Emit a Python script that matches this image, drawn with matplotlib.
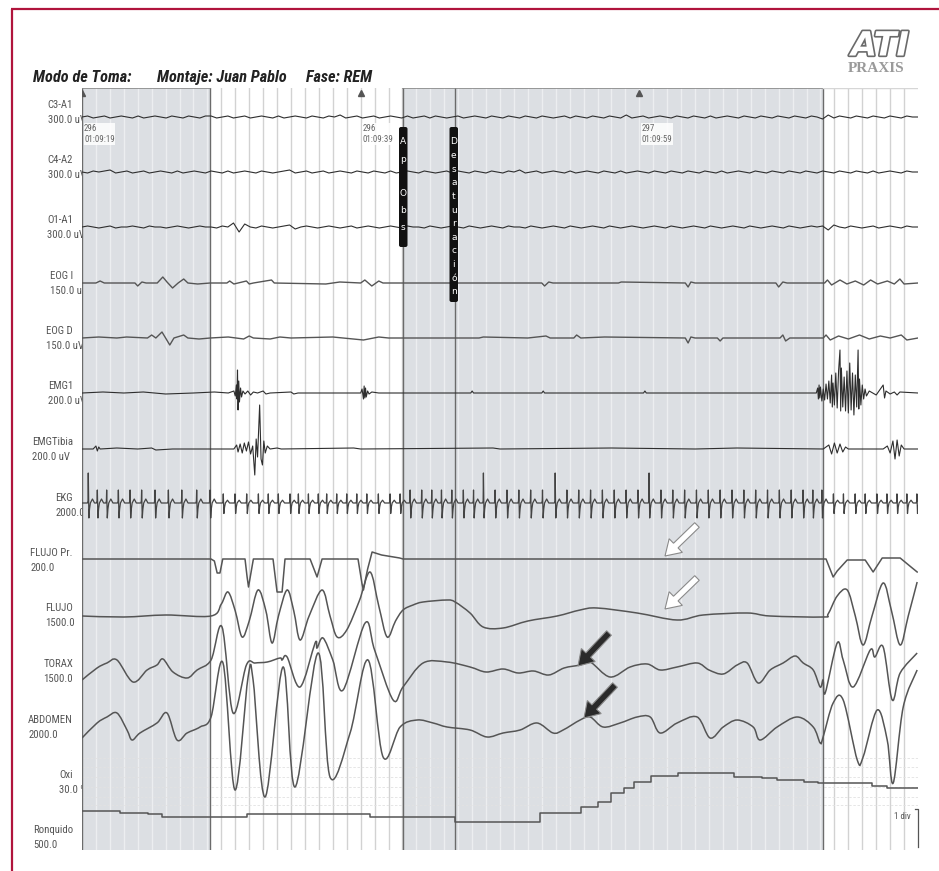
import matplotlib

matplotlib.use("Agg")

import matplotlib.patheffects as pe
import matplotlib.pyplot as plt
import numpy as np
from matplotlib import font_manager
from matplotlib.patches import FancyArrow, FancyBboxPatch, PathPatch
from matplotlib.path import Path

W, H = 939, 871
T_END = 60.0

# scored windows (s) and dark event lines
SCORED = [(0.0, 9.19), (23.04, 53.19)]
EVENT_LINES = [0.0, 9.19, 23.04, 26.78, 53.19]

CHANNELS = ["C3-A1", "C4-A2", "O1-A1", "EOG I", "EOG D", "EMG1", "EMGTibia",
            "EKG", "FLUJO Pr.", "FLUJO", "TORAX", "ABDOMEN", "Oxi", "Ronquido"]
SCALES = ["300.0 uV", "300.0 uV", "300.0 uV", "150.0 uV", "150.0 uV", "200.0 uV",
          "200.0 uV", "2000.0", "200.0", "1500.0", "1500.0", "2000.0", "30.0 %", "500.0"]

# EEG jitter, evenly sampled over the 60 s page
C3_A1 = [0, 1, -1, 0, 1, -1, 0, 1, 0, -1, 1, -1, 0, 1, 0, -1, 1, 0, -1, 1,
         0, -1, 1, 1, -1, 0, 1, -1, 0, 1, -1, 0, 1, 0, -1, 1, -1, 0, 1, 0,
         -1, 1, 0, -1, 1, 0, 2, -1, 0, 1, -1, 0, 1, -1, 0, 1, 0, -1, 1, -1,
         0, 1, -1, 1, 0, -1, 0, 1, -1, 0, 1, 0, -1, 1, 0, -1, 1, 0, -1, 1,
         0, -1, 1, 0, -1, 0, 1, -1, 1, 0, -1, 1, 0, -1, 1, 0, -1, 2, -1, 0,
         1, -1, 0, 1, 0, -1, 1, 0, -1, 1, 0, -1, 1, -1, 0, 1, 0, -1, 1, 0,
         -1, 1, 0, -1, 1, 0, -1, 1, 0, -1, 1, 0, -2, 2, -1, 1, 0, -1, 1, 0,
         -1, 1, 0, -1, 1, 0, -1, 1, 0, 0]
C4_A2 = [0, -1, 1, 0, 1, 2, -1, 0, 1, -1, 0, 1, -1, 0, 1, 0, -1, 1, -1, 0,
         1, 0, -1, 1, 0, -1, 1, -1, 0, 1, 0, -1, 1, 0, -1, 0, 1, 2, -1, 0,
         1, -1, 0, 1, -1, 0, 1, 0, -1, 1, 0, -1, 1, 0, -1, 1, -1, 0, 1, 0,
         -1, 1, 0, -1, 0, 1, -1, 1, 0, -1, 1, 0, -1, 1, 0, -1, 1, 0, 2, -1,
         0, 1, -1, 0, 1, 0, -1, 1, -1, 0, 1, 0, -1, 1, 0, -1, 1, -1, 0, 1,
         0, -1, 1, 0, -1, 1, 0, -1, 1, 0, -1, 1, 0, -1, 1, -1, 0, 1, 0, -1,
         1, 0, -1, 1, 0, -1, 1, 0, -1, 1, 0, -1, 1, 0, -1, 1, 0, -1, 1, 0,
         -1, 1, -1, 0, 1, 0, -1, 1, 0, 0]
O1_A1 = [0, 1, 0, -1, 0, 1, -1, 0, 0, 1, 0, -1, 1, 0, 0, -1, 0, 1, 0, -1,
         0, 1, 0, 0, -1, 1, 0, 4, -5, 3, 0, -1, 1, 0, -1, 0, 1, 2, -2, 0,
         1, 0, -1, 0, 1, 0, -1, 0, 1, -1, 0, 1, 0, -1, 0, 1, 0, -1, 1, 0,
         0, -1, 1, 0, -1, 0, 1, 0, -1, 1, 0, -1, 0, 1, 0, -1, 1, 0, 0, -1,
         1, 0, -1, 0, 1, 0, -1, 1, 0, -1, 0, 1, 0, -1, 1, 0, -1, 0, 1, 0,
         -1, 0, 1, 0, -1, 1, 0, -1, 0, 1, 0, -1, 1, 0, -1, 0, 1, 0, -1, 1,
         0, -1, 0, 1, 0, -1, 1, 0, -1, 0, 1, 0, 1, -3, 2, 0, -1, 1, 0, -1,
         0, 1, -1, 0, 1, 0, -1, 1, 0, 0]

# slow channels as (time s, deflection) knots
EOG_I = [(0, 0), (1.0, 0), (1.3, 2), (1.6, 0), (3.8, 0), (4.0, -3), (4.3, 1), (4.6, 0),
         (5.4, 0), (5.8, 6), (6.1, 1), (6.5, -5), (6.9, 0), (7.3, 4), (7.6, 0), (8.3, -1),
         (9.2, 0), (10.4, 0), (10.6, 2), (10.9, -1), (11.8, 2), (12.0, -1), (12.3, 0),
         (13.6, 3), (13.8, 0), (17.5, -1), (18.5, 1), (20.0, 0), (20.3, 3), (20.8, -3),
         (21.3, 2), (21.6, 0), (33.0, 0), (33.2, -3), (33.5, 1), (33.8, 0), (38.5, 0),
         (38.7, 1), (43.3, 0), (43.5, -4), (43.7, 1), (44.0, 0), (49.8, 0), (50.0, -4),
         (50.3, 1), (50.6, 0), (53.3, 0), (53.5, 3), (53.8, -2), (54.4, 3), (54.9, -1),
         (55.5, 2), (56.1, -2), (56.6, 3), (57.1, -1), (57.8, 2), (58.3, -1), (58.7, 4),
         (59.0, -1), (60, 0)]
EOG_D = [(0, 0), (1.2, 1), (2.5, 0), (3.2, 1), (4.7, 0), (5.0, 3), (5.3, 0), (5.74, 6),
         (6.0, 0), (6.3, -7), (6.6, 0), (7.3, 3), (7.6, 0), (8.4, -1), (9.2, 0), (10.5, 1),
         (11.6, -1), (12.0, 2), (12.3, 0), (13.5, -1), (14.2, 1), (15.0, 0), (18.0, 1),
         (20.2, -2), (21.3, 1), (22.0, 0), (28.5, 0), (28.8, 1), (32.0, 0), (33.3, 2),
         (33.6, 0), (35.3, 0), (35.5, 3), (35.8, 0), (37.5, 1), (43.3, 0), (43.5, -5),
         (43.7, 1), (44.0, 0), (45.6, 0), (45.8, -3), (46.0, 0), (50.1, 0), (50.3, 3),
         (50.5, -3), (50.8, 0), (53.2, 0), (53.4, 3), (53.7, -2), (54.3, 2), (55.0, -1),
         (55.8, 3), (56.5, -1), (57.3, 2), (58.0, 0), (58.8, 3), (59.2, -2), (60, 0)]
EMG1 = [(0, 0), (1.5, 1), (3, 0), (4.4, 1), (6, -1), (8, 0), (9.5, 1), (10.5, 0), (10.9, 2),
        (11.0, -3), (11.08, 8), (11.12, -6), (11.16, 23), (11.2, -17), (11.25, 12),
        (11.3, -9), (11.38, 5), (11.45, -4), (11.55, 2), (11.7, -1), (11.9, 2), (12.1, -2),
        (12.3, 1), (12.6, 0), (13.0, 2), (13.2, -1), (13.5, 0), (15.0, 1), (15.2, -1),
        (15.5, 0), (20.0, 0), (20.1, 4), (20.2, -6), (20.25, 7), (20.3, -5), (20.35, 5),
        (20.4, -4), (20.5, 2), (20.6, -1), (20.8, 1), (21.3, 0), (27.9, 0), (28.0, 2),
        (28.1, 0), (33.0, 0), (33.1, 2), (33.2, 0), (40.3, 0), (40.4, 2), (40.5, 0),
        (52.7, 0), (52.8, 5), (52.85, -6), (52.9, 8), (52.95, -5), (53.0, 6), (53.1, -8),
        (53.2, 4), (53.3, -7), (53.4, 9), (53.5, -6), (53.6, 12), (53.7, -10), (53.8, 18),
        (53.85, -14), (53.9, 10), (54.0, -12), (54.1, 20), (54.2, -15), (54.3, 22),
        (54.4, 43), (54.45, -18), (54.5, 25), (54.6, -14), (54.7, 16), (54.8, -18),
        (54.9, 22), (55.0, -20), (55.1, 30), (55.2, -17), (55.3, 20), (55.4, -22),
        (55.5, 18), (55.6, -14), (55.7, 43), (55.75, -16), (55.8, 14), (55.9, -12),
        (56.0, 8), (56.1, -6), (56.2, 4), (56.3, -3), (56.5, 2), (57.0, -2), (57.5, 8),
        (57.6, -5), (57.7, 2), (58.0, -1), (58.3, 1), (58.5, -2), (58.7, 1), (60, 0)]
EMG_TIBIA = [(0, 0), (0.8, 0), (1.0, 3), (1.1, -2), (1.2, 2), (1.3, 0), (2.5, 1), (4.0, 0),
             (5.0, 1), (5.3, -1), (6.5, 0), (10.9, 0), (11.1, 4), (11.2, -3), (11.35, 5),
             (11.5, -4), (11.65, 6), (11.8, -2), (11.95, 7), (12.1, -5), (12.25, 3),
             (12.4, -26), (12.5, 10), (12.6, -8), (12.75, 44), (12.85, -10), (12.95, -16),
             (13.05, 8), (13.15, -4), (13.3, 3), (13.5, 0), (14.0, 1), (14.3, 0), (19.5, 1),
             (20, 0), (29.5, 1), (30, 0), (38, 1), (44, 0), (47, 1), (53.2, 0), (53.6, 4),
             (53.8, -5), (54.0, 6), (54.2, -4), (54.4, 5), (54.6, -3), (54.8, 2), (55.0, 0),
             (57.5, 0), (57.8, 3), (58.0, -4), (58.2, 8), (58.35, -10), (58.5, 9),
             (58.65, -7), (58.8, 4), (59.0, 0), (60, 0)]

EKG_BEATS = [0.45, 1.1, 1.77, 2.61, 3.45, 4.28, 5.24, 6.2, 7.16, 8.23, 9.19,
             10.14, 10.98, 11.82, 12.66, 13.37, 14.09, 14.93, 15.53, 16.25, 16.96,
             17.56, 18.28, 19.0, 19.72, 20.44, 21.27, 22.11, 22.83,
             23.55, 24.38, 25.1, 25.8, 26.54, 27.37, 28.1, 28.81, 29.65, 30.5, 31.35,
             32.2, 33.05, 33.96, 34.8, 35.65, 36.5, 37.35, 38.2, 39.05, 39.9, 40.7,
             41.55, 42.4, 43.25, 44.1, 44.95, 45.8, 46.65, 47.5, 48.35, 49.2, 50.05,
             50.9, 51.75, 52.45, 53.1,
             53.93, 54.65, 55.49, 56.21, 57.05, 57.77, 58.49, 59.2, 59.92]
EKG_TALL = [0.45, 28.81, 33.96, 40.7]
BEAT_T = [-0.06, -0.02, 0.0, 0.045, 0.09, 0.15, 0.3, 0.45]
BEAT_V = [0, 2, 13, -15, -6, 0, 4, 0]

FLUJO_PR = [(0.0, 0), (9.26, 0), (9.5, -2), (9.7, -14), (9.9, -14), (10.1, 0), (11.7, 0),
            (11.85, -18), (11.95, -28), (12.05, -20), (12.3, 0), (13.71, 0), (14.0, -33),
            (14.36, -33), (14.57, 0), (16.37, 0), (16.87, -18), (17.23, 0), (19.81, 0),
            (20.1, -25), (20.2, -31), (20.35, -20), (20.5, -10), (20.82, 7), (21.5, 4),
            (22.8, 1), (23.04, 0), (53.4, 0), (53.91, -18), (54.2, -12), (54.92, -1),
            (56.21, -1), (56.78, -13), (57.43, 1), (58.72, 1), (59.5, -8), (59.94, -13)]
FLUJO = [(0, 0), (3, -1), (6, 1), (9.26, 0), (10.0, 12), (10.48, 24), (11.0, 5),
         (11.49, -21), (12.0, -5), (12.63, 26), (13.2, 5), (13.64, -27), (14.1, 0),
         (14.72, 26), (15.2, 5), (15.65, -24), (16.3, 0), (17.23, 26), (17.8, 0),
         (18.31, -21), (19.0, -14), (19.9, 15), (20.67, 44), (21.3, 10), (21.9, -21),
         (22.5, -5), (23.04, 6), (23.76, 11), (24.48, 14), (26.2, 16), (26.78, 14),
         (27.85, 3), (28.79, -11), (30.22, -12), (32.0, -5), (34.1, 0), (35.75, 6),
         (36.97, 8), (39.84, 3), (42.71, -4), (44.58, 1), (47.74, 3), (49.39, 0),
         (53.19, -1), (53.55, 2), (54.2, 20), (54.92, 26), (55.5, 0), (56.06, -29),
         (56.7, 0), (57.5, 33), (58.1, 5), (58.72, -29), (59.3, 0), (59.94, 34)]
TORAX = [(0.0, -10), (1.08, 2), (1.79, 7), (2.51, 10), (3.66, -12), (4.67, 0), (5.38, 5),
         (5.81, 11), (6.53, -2), (7.54, -8), (8.26, 0), (9.26, 10), (10.05, 43),
         (10.84, -43), (11.8, 5), (12.42, 7), (13.3, 8), (14.21, 12), (14.36, 10),
         (14.72, 13), (15.65, -17), (16.73, 27), (16.87, 22), (17.3, 32), (18.0, 10),
         (18.74, -20), (20.32, 47), (21.0, 20), (22.33, -30), (23.04, -17), (24.48, 7),
         (26.2, 8), (27.85, 3), (29.0, -2), (30.22, 1), (31.3, -3), (32.4, -1), (33.5, -5),
         (34.6, 2), (35.75, 5), (36.47, 8), (37.9, -7), (39.34, 3), (40.56, 6), (41.5, 0),
         (42.71, 3), (44.15, 7), (45.0, 0), (46.02, -4), (47.02, 5), (47.74, 7),
         (48.53, -13), (49.39, 0), (50.32, 7), (51.18, 14), (51.76, 7), (52.48, 0),
         (52.98, -17), (53.19, -10), (53.34, -23), (54.2, 27), (54.63, 10), (55.35, -17),
         (56.57, 20), (56.9, 13), (57.5, 23), (58.15, -30), (58.72, -3), (59.94, 17)]
ABDOMEN = [(0.0, -13), (1.08, 2), (1.79, 8), (2.51, 12), (3.23, -5), (3.59, -15),
           (4.16, -8), (5.38, 2), (6.10, 12), (6.82, -15), (7.54, -8), (8.47, -2),
           (9.26, 8), (10.12, 62), (10.98, -65), (11.92, 48), (12.28, 45), (13.14, -72),
           (14.43, 58), (15.29, -62), (16.94, 72), (17.8, -52), (19.24, -8), (20.53, 65),
           (21.61, -32), (22.83, -2), (24.05, 5), (25.2, 2), (26.2, -2), (27.85, -5),
           (29.07, -12), (30.22, -8), (31.44, -5), (32.66, 2), (33.81, -8), (34.53, -5),
           (35.75, 5), (36.47, 8), (37.4, -2), (38.62, 2), (39.84, 8), (40.78, 8),
           (41.49, -8), (42.71, 2), (44.15, 8), (45.08, -13), (46.02, -2), (47.02, 5),
           (48.17, -2), (48.67, -15), (49.89, -2), (51.33, 8), (52.48, -2), (52.98, -18),
           (53.19, -12), (53.91, 22), (54.63, 25), (55.64, -35), (56.06, -32), (57.07, 15),
           (57.79, -15), (58.22, -58), (58.94, 18), (59.94, 55)]

# SpO2 staircase: step start times (s) and levels
OXI_T = [0, 2.73, 4.75, 5.75, 11.85, 20.7, 26.75, 32.85, 35.8, 37.0, 37.95, 38.9, 39.6,
         40.85, 42.8, 46.8, 48.8, 49.9, 51.8, 52.8, 56.7, 57.8]
OXI_V = [-1, -3, -4, -7, -4, -7, -12, -3, 3, 8, 17, 22, 28, 34, 37, 33, 32, 30, 28, 27, 24, 22]

EPOCH_MARKS = [0.0, 20.0, 40.0]
EPOCH_LABELS = ["296\n01:09:19", "296\n01:09:39", "297\n01:09:59"]


def narrow_font():
    """Pick a condensed sans face if one is installed, else plain Liberation Sans."""
    fonts = font_manager.fontManager.ttflist
    names = {f.name for f in fonts}
    for fam in ["Liberation Sans Narrow", "Arial Narrow", "Roboto Condensed",
                "Open Sans Condensed", "Noto Sans Condensed", "DejaVu Sans Condensed"]:
        if fam in names:
            return {"family": fam}
    for f in fonts:
        if f.name in ("Liberation Sans", "Noto Sans", "DejaVu Sans") and "condensed" in str(f.stretch):
            return {"family": f.name, "fontstretch": f.stretch}
    return {"family": "Liberation Sans"}


def fit_size(ax, renderer, text, target_px, **kw):
    probe = ax.text(0, 0, text, fontsize=10, **kw)
    width = probe.get_window_extent(renderer).width
    probe.remove()
    return 10.0 * target_px / width


def knots(points):
    t, v = zip(*points)
    return np.array(t, dtype=float), np.array(v, dtype=float)


def smooth_line(ax, t, y, **kw):
    # Catmull-Rom through the knots, drawn as cubic Bezier segments
    pts = np.column_stack([t, y])
    n = len(pts)
    verts, codes = [pts[0]], [Path.MOVETO]
    for i in range(n - 1):
        p0, p1, p2, p3 = pts[max(i - 1, 0)], pts[i], pts[i + 1], pts[min(i + 2, n - 1)]
        verts += [p1 + (p2 - p0) / 6.0, p2 - (p3 - p1) / 6.0, p2]
        codes += [Path.CURVE4] * 3
    ax.add_patch(PathPatch(Path(verts, codes), fill=False, **kw))


def build_ekg():
    t_out, v_out = [0.0], [0.0]
    for beat in EKG_BEATS:
        scale = 1.0 if any(a <= beat <= b for a, b in SCORED) else 0.7
        for dt, val in zip(BEAT_T, BEAT_V):
            amp = val * scale
            if beat in EKG_TALL and dt == 0.0:
                amp = 30
            t_out.append(beat + dt)
            v_out.append(amp)
    return np.array(t_out), np.array(v_out)


def main():
    fig = plt.figure(figsize=(W / 100, H / 100), dpi=100)
    fig.patch.set_facecolor("white")
    renderer = fig.canvas.get_renderer()
    nf = narrow_font()

    back = fig.add_axes([0, 0, 1, 1], zorder=0)
    back.set_xlim(0, W)
    back.set_ylim(H, 0)
    back.axis("off")

    ax = fig.add_axes([82 / W, 21 / H, 836 / W, 762 / H], zorder=1)
    ax.set_xlim(0, T_END)
    ax.set_ylim(850, 88)
    ax.set_xticks([])
    ax.set_yticks([])
    for s in ax.spines.values():
        s.set_visible(False)

    front = fig.add_axes([0, 0, 1, 1], zorder=2)
    front.set_xlim(0, W)
    front.set_ylim(H, 0)
    front.axis("off")
    front.patch.set_alpha(0)

    # page frame
    back.plot([11, W], [9, 9], color="#b0143c", lw=1.6, solid_capstyle="butt")
    back.plot([11.5, 11.5], [9, H], color="#b0143c", lw=1.6, solid_capstyle="butt")

    # header
    head_kw = dict(fontweight="bold", fontstyle="italic", **nf)
    hsize = min(12.5, fit_size(back, renderer, "Montaje: Juan Pablo", 130, **head_kw))
    for x, txt in [(33, "Modo de Toma:"), (157, "Montaje: Juan Pablo"), (306, "Fase: REM")]:
        back.text(x, 82, txt, fontsize=hsize, color="#222", va="baseline", **head_kw)
    back.text(880, 46, "ATI", fontsize=24, fontweight="bold", fontstyle="italic",
              color="white", ha="center", va="center", family="DejaVu Sans",
              path_effects=[pe.withStroke(linewidth=2.4, foreground="#6a6a6a")])
    back.text(876, 69, "PRAXIS", fontsize=11, fontweight="bold", family="Liberation Serif",
              color="#9a9a9a", ha="center", va="center")

    # channel labels: name right-aligned, scale aligned with the name start
    baselines = [117, 172, 227, 283, 338, 393, 449, 503, 559, 616, 670, 725, 810, 838]
    label_y = [105, 160, 220, 276, 331, 386, 442, 498, 553, 608, 664, 720, 775, 830]
    lsize = min(9.5, fit_size(back, renderer, "EMGTibia", 41, **nf))
    for name, scale, y in zip(CHANNELS, SCALES, label_y):
        t = back.text(73, y, name, fontsize=lsize, color="#555", ha="right", va="center", **nf)
        x0 = t.get_window_extent(renderer).x0
        back.text(x0, y + 15, scale, fontsize=lsize, color="#555", ha="left", va="center", **nf)

    # shading and grid
    for a, b in SCORED:
        ax.axvspan(a, b, color="#dcdfe3", lw=0, zorder=0)
    for sec in range(1, 60):
        shaded = any(a < sec < b for a, b in SCORED)
        ax.axvline(sec, color="#eceef0" if shaded else "#d2d2d2", lw=1.0, zorder=0.5)
    for y in [758, 767, 777, 787, 797, 805]:
        ax.axhline(y, color="#e2e2e2", lw=0.6, ls=(0, (3, 2)), zorder=0.6)
    for x in EVENT_LINES:
        ax.axvline(x, color="#6b6b6b", lw=1.0, zorder=1)
    for a, b in SCORED:
        ax.plot([a, b], [88.5, 88.5], color="#8a8a8a", lw=1.2, zorder=1)
    ax.plot([53.19, 60], [88.5, 88.5], color="#d6d6d6", lw=1.0, zorder=1)

    # epoch marks
    esize = min(8.0, fit_size(back, renderer, "01:09:19", 30, **nf))
    ax.plot(EPOCH_MARKS, [93] * 3, "^", color="#555", ms=4, zorder=3)
    for t0, lab in zip(EPOCH_MARKS, EPOCH_LABELS):
        ax.text(t0 + 0.15, 134, lab, fontsize=esize, color="#666", ha="left", va="center",
                linespacing=1.3, zorder=3,
                bbox=dict(fc="white", ec="none", pad=0.4, alpha=0.85), **nf)

    # traces
    for vals, base in zip([C3_A1, C4_A2, O1_A1], baselines[:3]):
        tt = np.linspace(0, T_END, len(vals))
        ax.plot(tt, base - np.array(vals, dtype=float), color="#2e2e2e", lw=0.8, zorder=2)
    for pts, base in zip([EOG_I, EOG_D], baselines[3:5]):
        tt, vv = knots(pts)
        ax.plot(tt, base - vv, color="#555", lw=1.0, zorder=2, solid_joinstyle="round")
    for pts, base in zip([EMG1, EMG_TIBIA], baselines[5:7]):
        tt, vv = knots(pts)
        ax.plot(tt, base - vv, color="#2e2e2e", lw=0.8, zorder=2)
    tt, vv = build_ekg()
    ax.plot(tt, baselines[7] - vv, color="#444", lw=0.9, zorder=2)
    tt, vv = knots(FLUJO_PR)
    ax.plot(tt, baselines[8] - vv, color="#555", lw=1.1, zorder=2)
    for pts, base in zip([FLUJO, TORAX, ABDOMEN], baselines[9:12]):
        tt, vv = knots(pts)
        smooth_line(ax, tt, base - vv, ec="#555", lw=1.1, zorder=2)
    ax.step(OXI_T + [T_END], baselines[12] - np.array(OXI_V + OXI_V[-1:], dtype=float),
            where="post", color="#555", lw=1.1, zorder=2)

    # event bars
    for x0, y0, h, letters, step in [(399, 127, 120, "Ap Obs", 17.0),
                                     (449.5, 127, 175, "Desaturación", 13.6)]:
        front.add_patch(FancyBboxPatch((x0, y0), 8.5, h,
                                       boxstyle="round,pad=0,rounding_size=2",
                                       fc="#111", ec="none"))
        for i, ch in enumerate(letters):
            front.text(x0 + 4.3, y0 + 15 + i * step, ch, fontsize=6.5, color="white",
                       ha="center", va="center", family="DejaVu Sans")

    # annotation arrows
    for (x, y, dx, dy, fc) in [(697, 525, -32, 31, "white"), (697, 578, -32, 31, "white"),
                               (609, 633, -31, 33, "#2a2a2a"), (615, 685, -31, 33, "#2a2a2a")]:
        front.add_patch(FancyArrow(x, y, dx, dy, width=6.5, head_width=19, head_length=15,
                                   length_includes_head=True, fc=fc, ec="#8a8a8a", lw=0.8))

    # 1 div calibration bracket
    front.plot([915, 918, 918], [809, 809, 847], color="#555", lw=0.9)
    front.text(911, 816, "1 div", fontsize=6.5, color="#555", ha="right", va="center", **nf)

    fig.savefig("out.png", dpi=100)
    plt.close(fig)


if __name__ == "__main__":
    main()
